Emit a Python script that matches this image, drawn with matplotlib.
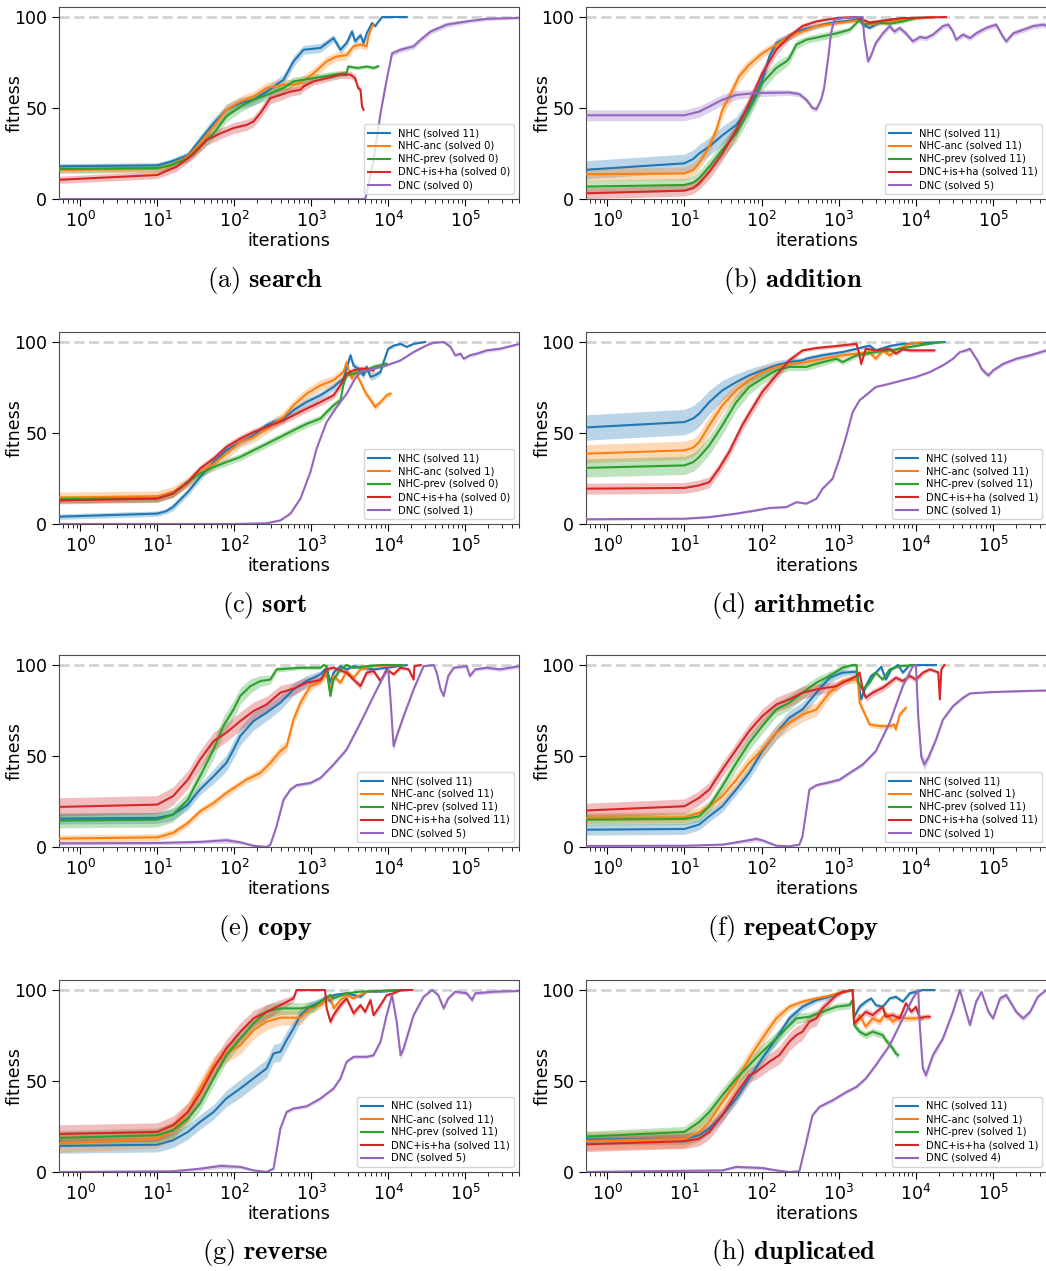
import numpy as np
import matplotlib
matplotlib.use("Agg")
import matplotlib.pyplot as plt

plt.rcParams['mathtext.fontset'] = 'cm'

methods = ['NHC', 'NHC-anc', 'NHC-prev', 'DNC+is+ha', 'DNC']
colors = ['tab:blue', 'tab:orange', 'tab:green', 'tab:red', 'tab:purple']

# each point: (iterations, mean fitness, half width of the shaded band)

# --- search ---
search_nhc = [(0.5, 18, 1.5), (10, 18.5, 1.5), (15, 20.5, 1.5), (25, 24, 2), (36, 32.5, 2.5), (54, 41.6, 3),
              (79, 49, 3), (120, 52.7, 3), (178, 54.5, 3), (263, 59, 3), (437, 65.5, 3), (589, 75.6, 3),
              (794, 82, 2.5), (1318, 83, 2.5), (1950, 88.4, 2), (2399, 82, 2), (2884, 85.7, 2), (3388, 92, 2),
              (3715, 86.6, 2), (4365, 90, 1.5), (4786, 85.7, 1.5), (5248, 91, 1.5), (6166, 96.7, 1),
              (6761, 95, 1), (8318, 100, 0.5), (17378, 100, 0)]
search_anc = [(0.5, 16, 2), (10, 16.5, 2), (15, 18.5, 2), (25, 23.3, 2.5), (36, 30.6, 3), (54, 39.8, 3),
              (79, 49, 3), (120, 53.6, 3), (178, 56.3, 3), (263, 61, 3), (437, 62.8, 3), (589, 62.8, 3),
              (724, 63.7, 3), (1072, 69, 3), (1585, 75.6, 3), (2138, 78.3, 2.5), (2884, 79, 2.5),
              (3548, 83.9, 2), (4365, 84.8, 2), (5248, 83.9, 2), (5495, 89, 2), (6166, 95, 1), (6457, 95.8, 1)]
search_prev = [(0.5, 16.5, 2), (10, 17, 2), (15, 18.5, 2), (25, 22.4, 2), (36, 28.8, 2.5), (54, 36, 3),
               (79, 45.3, 3), (120, 50.8, 3), (178, 54.5, 3), (263, 57.2, 3), (437, 61, 2.5), (589, 64.6, 2.5),
               (1072, 66.4, 2), (1950, 68.3, 2), (2884, 69.2, 1.5), (3020, 72.8, 1), (4000, 72, 1),
               (5248, 72.8, 1), (6500, 72, 1), (7413, 73, 1)]
search_isha = [(0.5, 10.5, 2), (10, 13.2, 2), (18, 17.8, 2.5), (30, 25, 2.5), (44, 32.5, 3), (66, 36, 3),
               (98, 39, 3), (145, 40.7, 3), (178, 42.6, 3), (219, 47.2, 3), (295, 55.4, 3), (398, 57.2, 3),
               (537, 59, 2.5), (724, 60, 2.5), (794, 61.8, 2.5), (1072, 64.6, 2), (1585, 66.4, 2),
               (2399, 68.3, 2), (3236, 68.3, 2), (3715, 66.4, 2), (4074, 61, 1.5), (4365, 60, 1.5),
               (4571, 50.8, 1), (4786, 49, 1)]
search_dnc = [(0.5, 0, 0), (5012, 0, 0), (5248, 3, 0.5), (6457, 21.5, 1), (7943, 47, 1.5), (9550, 65.5, 1.5),
              (11220, 80, 1.5), (14454, 82, 1.5), (21380, 83.9, 1.5), (26303, 87.5, 1.5), (35481, 92, 1.5),
              (57544, 95.8, 1.5), (104713, 97.6, 1), (190546, 99, 1), (501187, 99.5, 0.5)]

# --- addition ---
add_nhc = [(0.5, 16, 5), (10, 19.6, 5), (13, 22, 5), (15.5, 25, 5), (21, 28.8, 5), (31, 35, 5),
           (47, 40.7, 4.5), (69, 50.8, 4), (85, 58, 4), (102, 65.5, 3.5), (126, 78.3, 3), (155, 85.7, 2.5),
           (229, 89.4, 2), (339, 93, 1.5), (513, 95, 1.5), (759, 96.7, 1), (1122, 97.6, 1), (1698, 98.5, 1),
           (1950, 100, 0.5), (2042, 95.8, 1), (2512, 94, 1), (3020, 95.8, 1), (3715, 97.6, 1),
           (4571, 98.5, 1), (6761, 99.4, 0.5), (10000, 99.4, 0.5), (17378, 100, 0)]
add_anc = [(0.5, 13.6, 3.5), (10, 14, 3.5), (13, 16, 3.5), (15.5, 19.6, 3.5), (21, 28.8, 4), (26, 38, 4),
           (31, 49, 4), (38, 56, 4), (51, 67.3, 3.5), (69, 73.8, 3), (102, 80, 2.5), (155, 84.8, 2),
           (229, 89.4, 2), (513, 95, 1.5), (1122, 97, 1), (1698, 98, 1), (2512, 95.8, 1), (3715, 97, 1),
           (6761, 98.5, 1), (12303, 99.4, 0.5), (17378, 100, 0)]
add_prev = [(0.5, 6.8, 3.5), (10, 7.7, 3.5), (13, 9, 3.5), (15.5, 11.4, 4), (21, 17.8, 4), (31, 27, 4.5),
            (47, 36, 4.5), (69, 49, 4.5), (85, 56.3, 4), (102, 63.7, 4), (155, 72, 3.5), (209, 75.6, 3),
            (229, 77.4, 3), (282, 84.8, 2.5), (380, 87.5, 2), (617, 89.4, 2), (933, 91, 2), (1380, 93, 1.5),
            (1698, 96.7, 1), (1862, 98.5, 1), (2042, 95.8, 1), (3020, 97, 1), (4571, 96.3, 1),
            (6761, 97.6, 1), (10000, 99.4, 0.5)]
add_isha = [(0.5, 3.1, 3), (10, 4.6, 3), (13, 6, 3), (15.5, 8.6, 3.5), (21, 15, 4), (31, 25, 4), (47, 38, 4),
            (69, 52.7, 4), (102, 69, 3.5), (155, 82, 3), (229, 89.4, 2), (339, 95, 1.5), (513, 97.6, 1),
            (933, 99.4, 0.5), (1698, 100, 0.5), (2042, 98.5, 1), (2512, 97, 1), (3715, 98, 1),
            (6761, 99.4, 0.5), (24547, 100, 0)]
add_dnc = [(0.5, 46, 3), (10, 46, 3), (15.5, 48, 3), (21, 50.8, 3), (31, 54.5, 3), (47, 57.2, 2.5),
           (85, 58.2, 2), (229, 58.5, 1.5), (309, 57.6, 1.5), (380, 54.5, 1.5), (457, 50, 1.5),
           (513, 49.4, 1.5), (589, 54.5, 1.5), (646, 61, 1.5), (724, 76.5, 1.5), (794, 91, 1),
           (871, 98.5, 1), (1122, 99.4, 0.5), (1862, 100, 0.5), (2042, 100, 0.5), (2138, 89, 1),
           (2399, 75.6, 1.5), (2630, 79, 1.5), (3020, 85.7, 1.5), (3715, 91, 1.5), (4571, 95, 1.5),
           (5248, 92, 1.5), (6166, 94, 1.5), (7413, 91, 1.5), (9120, 86.6, 1.5), (11220, 89, 1.5),
           (13490, 88.4, 1.5), (16596, 90.3, 1.5), (22387, 95, 1.5), (26303, 95.8, 1.5), (30200, 92, 1.5),
           (33113, 87.5, 1.5), (40738, 90.3, 1.5), (50119, 88.4, 1.5), (60256, 91, 1.5), (81283, 94, 1.5),
           (109648, 95.8, 1.5), (134896, 89, 1.5), (147911, 86.6, 1.5), (181970, 91, 1.5),
           (245471, 93, 1.5), (331131, 95, 1.5), (446684, 95.8, 1.5), (501187, 95, 1.5)]

# --- sort ---
sort_nhc = [(0.5, 4, 1.5), (10, 5.7, 1.5), (13, 7, 1.5), (16, 9.3, 2), (25, 17.6, 2), (36, 25.8, 2),
            (54, 34, 2), (79, 40.5, 2), (120, 45, 2), (178, 48.7, 2), (263, 54.2, 2), (324, 56, 2),
            (437, 57.9, 2), (589, 62.5, 2), (871, 67, 2), (1318, 70.7, 2), (1950, 75.3, 2), (2630, 79.9, 2),
            (3236, 92.7, 2), (3548, 87, 2), (4074, 85.3, 2), (4786, 81.7, 2), (5248, 86.3, 2),
            (5888, 80.8, 2), (6761, 81.7, 2), (7943, 83.5, 1.5), (8710, 89, 1.5), (10000, 96.3, 1),
            (11749, 98, 1), (14454, 99, 0.5), (17378, 97.3, 0.5), (21380, 99, 0.5), (30200, 100, 0)]
sort_anc = [(0.5, 14.5, 3), (10, 15.2, 3), (16, 17.6, 3), (25, 23, 3), (36, 28.6, 3), (54, 33, 3),
            (79, 38.6, 3), (120, 45, 3), (178, 47.8, 3), (263, 52.4, 3), (437, 58.8, 3), (589, 65.2, 3),
            (871, 71.6, 3), (1318, 76.2, 3), (1950, 79, 2.5), (2630, 83.5, 2.5), (2884, 89, 2.5),
            (3020, 85.3, 2), (3388, 79.9, 2), (3715, 83.5, 2), (4365, 78, 2), (5012, 72.5, 2), (6166, 67, 2),
            (6761, 64.3, 2), (7943, 67, 1.5), (9550, 70.7, 1.5), (10715, 71.6, 1.5)]
sort_prev = [(0.5, 13.6, 2), (10, 14.1, 2), (16, 16.7, 2), (25, 23, 2), (36, 27.7, 2), (54, 31.3, 2),
             (79, 34, 2), (120, 36.8, 2), (178, 40.5, 2), (263, 44, 2), (437, 48.7, 2), (589, 51.5, 2),
             (871, 55, 2), (1318, 57.9, 2), (1585, 61.5, 2), (1950, 65.2, 2), (2399, 68, 2), (2630, 77, 1.5),
             (2884, 81.7, 1.5), (3548, 82.6, 1.5), (4365, 83.5, 1.5), (5248, 84.4, 1.5), (6457, 86.3, 1.5),
             (7943, 87.2, 1.5), (9550, 88, 1.5)]
sort_isha = [(0.5, 13, 2), (10, 13.9, 2), (16, 16.7, 2), (25, 23, 2), (36, 30.4, 2), (54, 35.9, 2),
             (79, 42.3, 2), (120, 46.9, 2), (178, 50.5, 2), (263, 53.3, 2), (437, 57, 2), (589, 59.7, 2),
             (871, 63.4, 2), (1318, 67, 2), (1950, 70.7, 2), (2399, 76.2, 2), (2884, 82.6, 1.5),
             (3548, 84.4, 1.5), (4365, 85.3, 1.5), (5248, 85.3, 1.5), (6457, 84.4, 1.5)]
sort_dnc = [(0.5, 0, 0), (98, 0, 0), (263, 0.4, 0.3), (398, 2, 0.5), (537, 5.7, 0.5), (724, 13.9, 0.5),
            (977, 28.6, 0.5), (1175, 41.4, 0.5), (1585, 56, 0.5), (2138, 64.3, 0.5), (2884, 71.6, 0.5),
            (3715, 79.9, 0.5), (4365, 83.5, 0.5), (6457, 85.3, 0.5), (9550, 87.2, 0.5), (14454, 89.9, 0.5),
            (21380, 94.5, 0.5), (31623, 98.2, 0.5), (38905, 99.6, 0.5), (52481, 100, 0.5), (64565, 97.3, 1),
            (74131, 92.7, 1), (87096, 93.6, 1), (95499, 90.8, 1), (114815, 92.7, 1), (141254, 93.6, 1),
            (190546, 95.4, 1), (281838, 96.3, 1), (512861, 99, 0.5)]

# --- arithmetic ---
arith_nhc = [(0.5, 53, 7), (10, 56, 7), (13, 58, 7), (15.5, 60.6, 7), (21, 67, 6.5), (31, 73.4, 5.5),
             (47, 78, 4.5), (69, 81.7, 3.5), (102, 84.4, 3), (155, 87.2, 2.5), (229, 89, 2), (339, 89.9, 1.5),
             (380, 90.8, 1.5), (617, 92.7, 1.5), (1122, 94.5, 1), (1698, 96.3, 1), (2512, 98, 1),
             (3020, 95.4, 1), (4571, 97.8, 1), (6761, 99, 0.5), (23442, 100, 0)]
arith_anc = [(0.5, 38.6, 5), (10, 40.5, 5), (13, 42, 5), (15.5, 45, 5), (21, 54.2, 5), (31, 65.2, 4.5),
             (47, 73.4, 4), (69, 79, 3.5), (102, 83.5, 3), (155, 86.3, 2), (229, 88, 1.5), (380, 89, 1.5),
             (617, 90.8, 1.5), (1122, 92.7, 1.5), (1698, 93.6, 1.5), (2512, 94.5, 1.5), (3020, 90.8, 1.5),
             (3715, 95.4, 1.5), (4571, 92.7, 1.5), (5888, 96.3, 1), (8318, 99, 0.5), (12303, 100, 0)]
arith_prev = [(0.5, 30.8, 5), (10, 32.2, 5), (13, 34, 5), (15.5, 36.8, 5), (21, 43.2, 5), (31, 54.2, 5),
              (47, 67, 4.5), (69, 75.3, 4), (102, 79.9, 3), (155, 84.4, 2.5), (229, 86.3, 2), (380, 86.3, 2),
              (513, 88, 2), (933, 90.8, 1.5), (1122, 89, 1.5), (1698, 92.7, 1.5), (3020, 94.5, 1),
              (4571, 95.4, 1), (8318, 97.3, 1), (12303, 98.5, 0.5), (22387, 100, 0)]
arith_isha = [(0.5, 19.4, 3), (10, 19.8, 3), (15.5, 21.2, 3), (21, 23, 3), (28, 30.4, 3), (38, 39.6, 3),
              (56, 54.2, 3), (85, 67, 3), (102, 72.5, 3), (155, 81.7, 2.5), (229, 89.9, 2), (339, 95.4, 1),
              (513, 96.7, 1), (933, 97.8, 1), (1698, 99, 1), (1862, 92.7, 1.5), (1950, 88, 1.5),
              (2239, 96.3, 1), (3020, 95.4, 1), (4571, 96.3, 1), (5495, 93.6, 1), (6761, 96, 1),
              (8318, 95.4, 1), (12303, 95.4, 1), (17378, 95.4, 1)]
arith_dnc = [(0.5, 2.6, 0.5), (10, 2.9, 0.5), (21, 3.8, 0.5), (47, 5.7, 0.5), (85, 7.5, 0.5), (126, 8.8, 0.5),
             (209, 9.3, 0.5), (282, 12, 0.5), (380, 11.2, 0.5), (513, 13.9, 0.5), (617, 19.4, 0.5),
             (832, 24.9, 0.5), (1023, 35.9, 0.5), (1259, 48.7, 0.5), (1514, 61.5, 0.5), (1862, 68, 0.5),
             (2512, 72.5, 0.5), (3020, 75.3, 0.5), (4571, 77.1, 0.5), (6761, 79, 0.5), (10000, 80.8, 0.5),
             (15136, 83.5, 0.5), (22387, 87.2, 0.5), (30200, 90.8, 0.5), (37154, 94.5, 0.5), (44668, 95.4, 1),
             (50119, 96.3, 1), (54954, 93.6, 1), (64565, 89, 1.5), (70795, 85.3, 1.5), (77625, 83.5, 1.5),
             (87096, 81.7, 1.5), (100000, 84.4, 1), (134896, 88, 1), (199526, 90.8, 1), (301995, 92.7, 1),
             (489779, 95.4, 1)]

# --- copy ---
copy_nhc = [(0.5, 15.6, 3), (10, 16, 3), (16, 17.8, 3), (25, 23.3, 3), (36, 31.6, 3), (54, 38.9, 4),
            (79, 46.2, 4.5), (98, 53.6, 5), (120, 61, 5), (178, 69.2, 5), (263, 73.8, 4.5), (398, 79.3, 4),
            (589, 86.6, 3.5), (871, 91.2, 3), (1318, 94.9, 2), (1585, 98.5, 1.5), (1778, 90.3, 1.5),
            (1950, 95.8, 1.5), (2399, 99.4, 1), (2884, 97.6, 1), (3548, 99.4, 1), (4365, 98.5, 1),
            (6457, 97.6, 1), (11749, 99, 0.5), (17378, 100, 0)]
copy_anc = [(0.5, 4.6, 2), (10, 5.3, 2), (16, 7.7, 2), (25, 13.2, 2), (36, 19.6, 2), (54, 24.2, 2),
            (79, 29.7, 2), (107, 33.4, 2), (145, 37.1, 2), (219, 40.7, 2.5), (295, 46.2, 3), (398, 52.7, 3),
            (479, 55.4, 3), (589, 70.1, 3), (724, 79.3, 3), (977, 88.4, 2.5), (1318, 91.2, 2),
            (1585, 94.9, 2), (1778, 86.6, 2), (1950, 94, 2), (2399, 90.3, 1.5), (2884, 96.7, 1.5),
            (3548, 93, 1.5), (4365, 97.6, 1), (6457, 99.4, 0.5), (14454, 100, 0)]
copy_prev = [(0.5, 14.5, 4), (10, 15, 4), (16, 17.8, 4), (25, 26, 4), (36, 38.9, 4.5), (54, 53.6, 5),
             (72, 66.4, 5), (98, 75.6, 5), (120, 83, 4.5), (162, 88.4, 4), (219, 91.2, 3), (295, 92, 2.5),
             (355, 97.6, 1.5), (724, 98.5, 1), (1318, 98.5, 1), (1445, 100, 0.5), (1585, 99.4, 0.5),
             (1698, 88.4, 2), (1778, 83, 2), (1950, 92, 1.5), (2399, 97.6, 1), (2884, 100, 0.5),
             (3548, 98.5, 0.5), (5248, 99.4, 0.5), (7943, 100, 0), (15000, 100, 0)]
copy_isha = [(0.5, 22, 5), (10, 23.3, 5), (16, 27.9, 5), (25, 37, 5), (36, 48, 5), (54, 58.2, 5),
             (79, 62.8, 5), (120, 69.2, 5), (178, 74.7, 5), (263, 78.3, 4.5), (398, 84.8, 4), (589, 87, 3.5),
             (871, 90.3, 3), (1318, 91.7, 2), (1585, 97.6, 1.5), (1950, 98.5, 1), (2884, 95.8, 1.5),
             (3548, 92, 1.5), (4365, 88.4, 2), (5248, 95.8, 1.5), (6457, 96.7, 1.5), (7943, 91.2, 1.5),
             (9550, 97.6, 1), (11749, 94.9, 1), (14454, 98.5, 1), (18500, 97.6, 1), (21380, 92, 1),
             (22000, 99.4, 0.5), (26303, 100, 0)]
copy_dnc = [(0.5, 2, 1), (10, 2.2, 1), (36, 2.8, 1), (79, 3.7, 1.5), (120, 2.6, 1), (178, 0.7, 0.5),
            (263, 0, 0), (295, 1.3, 0.5), (355, 11.4, 0.5), (437, 26, 1), (537, 31.6, 1), (646, 34, 1),
            (977, 35.2, 1), (1318, 38, 1), (1950, 45.3, 1), (2884, 53.6, 1), (4365, 68.3, 1), (6457, 83, 1),
            (8710, 94, 1), (10000, 97.6, 1), (10715, 81.1, 2), (11749, 55.4, 2.5), (12882, 61, 2),
            (15849, 71.9, 1.5), (21380, 86.6, 1), (28840, 99.4, 0.5), (38905, 100, 0.5), (42658, 95.8, 1),
            (47863, 86.6, 1.5), (52481, 83, 1.5), (60256, 94, 1), (70795, 98.5, 1), (104713, 99.4, 1),
            (114815, 94, 1.5), (134896, 97.6, 1), (190546, 98.5, 1), (281838, 97.6, 1), (512861, 99.4, 1)]

# --- repeatCopy ---
rep_nhc = [(0.5, 9.5, 3), (10, 9.9, 3), (15.5, 12.3, 3), (21, 16.9, 3), (31, 22.4, 3), (47, 31.6, 3),
           (69, 40.7, 3.5), (102, 52.7, 4), (155, 62.8, 4), (229, 71, 4), (339, 75.6, 4), (513, 84.8, 3.5),
           (759, 93, 3), (1122, 95.8, 2), (1698, 96.3, 1.5), (1778, 92, 1.5), (1950, 81.1, 2),
           (2239, 88.4, 1.5), (2630, 94, 1.5), (3020, 95.8, 1), (3548, 99, 1), (4074, 92, 1),
           (4786, 97.6, 1), (5888, 100, 0.5), (6761, 95.8, 1), (8318, 100, 0.5), (18197, 100, 0)]
rep_anc = [(0.5, 16, 3), (10, 16.3, 3), (15.5, 18.7, 3), (21, 22.4, 3), (31, 27.9, 3.5), (47, 37, 4),
           (69, 46.2, 4), (102, 53.6, 4), (155, 62.8, 4), (229, 68.3, 4), (339, 72.8, 4), (513, 75.6, 3.5),
           (759, 84.8, 3), (1122, 91.2, 2), (1698, 92, 2), (1778, 90.3, 2), (1862, 79.3, 2),
           (2138, 73.8, 2), (2512, 67.3, 1.5), (3388, 66.4, 1.5), (4571, 66.4, 1.5), (5248, 67.3, 1.5),
           (5495, 64.6, 1.5), (6166, 72.8, 1.5), (7413, 76.5, 1.5)]
rep_prev = [(0.5, 15, 3), (10, 15.4, 3), (15.5, 16.9, 3), (21, 22.4, 3), (31, 33.4, 3.5), (47, 46.2, 4),
            (69, 57.2, 4), (102, 66.4, 4), (155, 75.6, 4), (229, 79.3, 4), (339, 84.8, 3.5), (513, 90.3, 3),
            (759, 94, 2.5), (1122, 98.5, 1.5), (1514, 100, 1), (1698, 100, 1), (1778, 90.3, 1.5),
            (2042, 86.6, 1.5), (2512, 90.3, 1.5), (3020, 95.8, 1), (3715, 92, 1), (4571, 97.6, 1),
            (6166, 99.4, 0.5), (10000, 100, 0)]
rep_isha = [(0.5, 20, 4), (10, 22.4, 4), (15.5, 27, 4), (21, 31.6, 4), (31, 42.6, 4), (47, 53.6, 4),
            (69, 63.7, 4), (102, 71.9, 4), (155, 78.3, 4), (229, 81.1, 4), (339, 84.8, 3.5), (513, 86.6, 3),
            (933, 88.4, 2.5), (1122, 90.3, 2), (1698, 93.9, 1.5), (1862, 95.8, 1.5), (2042, 86.6, 2),
            (2239, 82, 2), (2754, 84.8, 2), (3715, 87.5, 2), (4571, 90.3, 2), (5495, 93, 1.5),
            (6761, 91.2, 1.5), (8318, 94, 1.5), (10000, 92, 1.5), (12303, 95.8, 1.5), (15136, 97.6, 1),
            (19500, 96, 1), (20417, 81.1, 1.5), (21380, 97.6, 1), (23442, 100, 0)]
rep_dnc = [(0.5, 0.6, 0.5), (10, 0.7, 0.5), (31, 1.3, 0.5), (56, 3.1, 1), (85, 4.4, 1.5), (102, 3.7, 1),
           (155, 0.7, 0.5), (229, 0.4, 0.3), (309, 1.3, 0.5), (339, 5.9, 0.5), (417, 31.6, 1), (513, 34, 1),
           (759, 35.6, 1), (1023, 37, 1), (1380, 40.7, 1), (2042, 45.3, 1), (3020, 52.7, 1), (4571, 68.3, 1),
           (6761, 88.4, 1), (9120, 99.4, 0.5), (10000, 100, 0.5), (10715, 71.9, 2), (11749, 49.5, 3),
           (12882, 45.3, 3), (14454, 49, 2), (18197, 59, 1.5), (22387, 70, 1), (30200, 77.4, 1),
           (40738, 82, 1), (50119, 84.4, 0.5), (91201, 85.1, 0.5), (245471, 85.7, 0.5), (489779, 86, 0.5)]

# --- reverse ---
rev_nhc = [(0.5, 14.3, 4), (10, 15, 4), (16, 17.4, 4), (25, 22, 4), (36, 27.5, 4), (54, 33, 4),
           (79, 40.4, 4.5), (120, 45.9, 5), (178, 51.4, 5), (263, 56.9, 5), (324, 65.1, 5), (398, 66.1, 5),
           (479, 72.5, 5), (589, 78.9, 4.5), (724, 86.2, 4), (977, 90.8, 3), (1318, 93.6, 2),
           (1585, 96.3, 1.5), (1778, 93.6, 1.5), (1950, 97.2, 1), (2884, 98.2, 1), (4365, 96.3, 1),
           (5248, 99.1, 0.5), (7943, 99.1, 0.5), (18197, 100, 0)]
rev_anc = [(0.5, 15.6, 5), (10, 18.3, 5), (16, 22.9, 5), (25, 33, 5), (36, 45.9, 5), (54, 58.7, 5),
           (79, 65.1, 5), (120, 69.7, 5), (178, 78, 5), (263, 82.6, 4.5), (398, 84.8, 4), (724, 84.8, 4),
           (977, 89.9, 3), (1318, 91.7, 2), (1778, 96.3, 1.5), (1950, 89.9, 2), (2399, 94.5, 1.5),
           (2884, 97.2, 1), (3548, 95.4, 1), (5248, 99.1, 0.5), (14454, 100, 0)]
rev_prev = [(0.5, 18.7, 4), (10, 20.2, 4), (16, 22.9, 4), (25, 29.4, 4), (36, 37.6, 4), (54, 51.4, 4),
            (79, 64.2, 4), (120, 73.4, 4), (178, 81.7, 4), (263, 88, 4), (398, 89.9, 3.5), (724, 89.9, 3),
            (1072, 90.8, 3), (1318, 93.6, 2), (1778, 97.2, 1.5), (1950, 95.4, 1.5), (2884, 98.2, 1),
            (4365, 99.1, 0.5), (14454, 100, 0)]
rev_isha = [(0.5, 20.9, 5), (10, 22, 5), (16, 25.7, 5), (25, 33, 5), (36, 43.1, 5), (54, 56.9, 5),
            (79, 67.9, 5), (120, 77, 5), (178, 84.4, 4.5), (263, 88, 4), (398, 91.7, 3), (589, 95.4, 2),
            (646, 100, 0.5), (1514, 100, 0.5), (1585, 89.9, 2), (1778, 82.6, 2), (1950, 86.2, 2),
            (2399, 91.7, 2), (2884, 95.4, 1.5), (3548, 87.2, 2), (4365, 91.7, 1.5), (5012, 88, 1.5),
            (5888, 94.5, 1.5), (6457, 86.2, 1.5), (7943, 91.7, 1.5), (9550, 97.2, 1), (11749, 98.2, 1),
            (14454, 100, 0.5), (20417, 100, 0)]
rev_dnc = [(0.5, 0, 0.3), (16, 0.4, 0.5), (36, 1.8, 1), (66, 3.3, 1.5), (120, 2.8, 1), (178, 0.9, 0.5),
           (263, 0, 0), (324, 1.8, 0.5), (398, 23.9, 1), (479, 33, 1), (589, 34.9, 1), (871, 36.1, 1),
           (1318, 40.4, 1), (1950, 45.9, 1), (2399, 51.4, 1), (2884, 60.6, 1), (3548, 63.3, 1),
           (5248, 63.3, 1), (6457, 64.2, 1), (7943, 71.6, 1), (9550, 86.2, 1), (11220, 97.2, 1),
           (12882, 82.6, 2), (14454, 64.2, 2.5), (15849, 67.9, 2), (21380, 86.2, 1), (28840, 96.3, 1),
           (37154, 100, 0.5), (44668, 97.2, 1), (52481, 89.9, 1.5), (60256, 95.4, 1), (74131, 99.1, 1),
           (104713, 98.2, 1), (123027, 94.5, 1.5), (134896, 98.2, 1), (245471, 99.1, 1), (512861, 99.5, 0.5)]

# --- duplicated ---
dup_nhc = [(0.5, 17.8, 3), (10, 18.3, 3), (15.5, 20.2, 3), (21, 23.9, 3), (31, 31.2, 3), (47, 40.4, 3),
           (69, 51.4, 3), (102, 62.4, 3), (155, 73.4, 3), (229, 84.4, 2.5), (339, 90.8, 2), (513, 94.5, 1.5),
           (759, 96.3, 1.5), (1122, 99, 1), (1514, 100, 0.5), (1585, 85.3, 2), (1862, 90.8, 1.5),
           (2239, 93.6, 1.5), (2630, 95.4, 1), (3020, 91.7, 1), (3715, 90.8, 1), (4571, 95.4, 1),
           (5495, 96.3, 1), (6761, 93.6, 1), (8318, 98.2, 1), (12303, 100, 0.5), (17378, 100, 0)]
dup_anc = [(0.5, 17, 5), (10, 18.3, 5), (15.5, 22, 5), (21, 27.5, 5), (31, 38.5, 5), (47, 49.5, 5),
           (69, 62.4, 4.5), (102, 73.4, 4), (155, 84.4, 3), (229, 90.8, 2), (339, 93.6, 1.5), (513, 95.4, 1.5),
           (759, 96.9, 1), (1122, 99, 1), (1514, 100, 0.5), (1585, 80.7, 2), (1862, 86.2, 2), (2239, 79.8, 2),
           (2754, 84.4, 2), (3388, 82.6, 2), (4074, 87.2, 2), (5012, 82.6, 2), (6166, 85.3, 2),
           (7413, 84.4, 2), (10000, 84.4, 1.5), (12303, 85.3, 1.5)]
dup_prev = [(0.5, 19.4, 3), (10, 22, 3), (15.5, 27.5, 3.5), (21, 33, 4), (31, 42.2, 4), (47, 51.4, 4),
            (69, 58.7, 4), (102, 66.1, 4), (155, 73.4, 3.5), (209, 78.9, 3), (282, 84.4, 3), (417, 85.3, 2.5),
            (617, 88, 2), (933, 90.8, 2), (1380, 91.7, 2), (1514, 94.5, 1.5), (1585, 80.7, 2),
            (1862, 77.1, 2), (2239, 75.2, 2), (2754, 77.1, 2), (3715, 75.2, 2), (4074, 72.5, 2),
            (5012, 67.9, 2), (5495, 65.1, 2), (5888, 64.2, 2)]
dup_isha = [(0.5, 15.2, 4), (10, 16.9, 4), (15.5, 18.3, 4), (21, 22, 4), (31, 31.2, 4), (47, 43.1, 4),
            (69, 53.2, 4), (85, 55, 4), (126, 60.6, 4.5), (170, 64.2, 5), (229, 71.6, 5), (282, 75.2, 5),
            (339, 77.1, 4.5), (417, 82.6, 4), (513, 84.4, 4), (617, 89.9, 3), (933, 97.2, 1.5),
            (1122, 99, 1), (1514, 100, 0.5), (1585, 81.7, 2), (1862, 84.4, 2), (2239, 88, 2),
            (2754, 86.2, 2), (3715, 90.8, 2), (4074, 85.3, 2), (5012, 86.2, 2), (6166, 84.4, 2),
            (7413, 92.7, 1.5), (8710, 88, 1.5), (10000, 90.8, 1.5), (11220, 84.4, 1.5), (13490, 85.3, 1.5),
            (15136, 85.3, 1.5)]
dup_dnc = [(0.5, 0, 0.3), (31, 0.9, 0.5), (47, 2.8, 1), (102, 2.2, 1), (155, 0.9, 0.5), (229, 0, 0),
           (309, 0.4, 0.3), (380, 16.5, 1), (457, 31.2, 1), (562, 35.8, 1), (832, 39.4, 1), (1259, 44, 1),
           (1698, 46.8, 1), (2239, 51.4, 1), (3020, 58.7, 1), (4571, 69.7, 1), (6761, 84.4, 1),
           (9120, 95.4, 1), (10715, 100, 0.5), (11220, 80.7, 2), (12303, 56.9, 2.5), (13490, 53.2, 2.5),
           (16596, 64.2, 2), (22387, 73.4, 1.5), (30200, 88, 1.5), (37154, 100, 1), (44668, 88, 1.5),
           (50119, 80.7, 1.5), (60256, 93.6, 1.5), (70795, 99, 1), (87096, 88, 1.5), (100000, 84.4, 1.5),
           (123027, 95.4, 1.5), (147911, 97.2, 1.5), (199526, 88, 1.5), (245471, 84.4, 1.5),
           (301995, 88, 1.5), (380189, 96.3, 1), (489779, 100, 0.5)]

# number of solved runs per method, same order as `methods`
solved_search = [11, 0, 0, 0, 0]
solved_add = [11, 11, 11, 11, 5]
solved_sort = [11, 1, 0, 0, 1]
solved_arith = [11, 11, 11, 1, 1]
solved_copy = [11, 11, 11, 11, 5]
solved_rep = [11, 1, 11, 11, 1]
solved_rev = [11, 11, 11, 11, 5]
solved_dup = [11, 1, 1, 1, 4]

decades = [1e0, 1e1, 1e2, 1e3, 1e4, 1e5]

panels = [
    ('(a)', 'search', [search_nhc, search_anc, search_prev, search_isha, search_dnc], solved_search),
    ('(b)', 'addition', [add_nhc, add_anc, add_prev, add_isha, add_dnc], solved_add),
    ('(c)', 'sort', [sort_nhc, sort_anc, sort_prev, sort_isha, sort_dnc], solved_sort),
    ('(d)', 'arithmetic', [arith_nhc, arith_anc, arith_prev, arith_isha, arith_dnc], solved_arith),
    ('(e)', 'copy', [copy_nhc, copy_anc, copy_prev, copy_isha, copy_dnc], solved_copy),
    ('(f)', 'repeatCopy', [rep_nhc, rep_anc, rep_prev, rep_isha, rep_dnc], solved_rep),
    ('(g)', 'reverse', [rev_nhc, rev_anc, rev_prev, rev_isha, rev_dnc], solved_rev),
    ('(h)', 'duplicated', [dup_nhc, dup_anc, dup_prev, dup_isha, dup_dnc], solved_dup),
]


def draw_panel(ax, curves, solved, label_x):
    ax.axhline(100, color='lightgray', ls='--', lw=2, zorder=1)
    for pts, name, n, c in zip(curves, methods, solved, colors):
        x = np.array([p[0] for p in pts], dtype=float)
        y = np.array([p[1] for p in pts], dtype=float)
        b = np.array([p[2] for p in pts], dtype=float)
        ax.fill_between(x, y - b, y + b, color=c, alpha=0.3, lw=0, zorder=2)
        ax.plot(x, y, color=c, lw=1.5, label=f'{name} (solved {n})', zorder=3)
    ax.set_xscale('log')
    ax.set_xticks(decades)
    ax.set_xlim(0.53, 5e5)
    ax.set_ylim(0, 105.5)
    ax.set_yticks([0, 50, 100])
    ax.tick_params(labelsize=12.5, length=5)
    ax.tick_params(which='minor', length=3)
    for sp in ax.spines.values():
        sp.set_color('0.3')
    ax.set_xlabel('iterations', fontsize=12.5, labelpad=1)
    ax.set_ylabel('fitness', fontsize=12.5)
    ax.yaxis.set_label_coords(label_x, 0.5)
    ax.legend(loc='lower right', fontsize=7.2, handlelength=2.2, labelspacing=0.3)


fig = plt.figure(figsize=(10.46, 12.71), dpi=100)

lefts = [59 / 1046, 586 / 1046]
widths = [460 / 1046, 461 / 1046]
bottoms = [1 - 199 / 1271, 1 - 524 / 1271, 1 - 847 / 1271, 1 - 1172 / 1271]
height = 192 / 1271
label_xs = [-0.076, -0.074]
cap_x = [265 / 1046, 793 / 1046]
cap_y = [1 - 281 / 1271, 1 - 605 / 1271, 1 - 929 / 1271, 1 - 1253 / 1271]

for i, (tag, task, curves, solved) in enumerate(panels):
    row, col = divmod(i, 2)
    ax = fig.add_axes([lefts[col], bottoms[row], widths[col], height])
    draw_panel(ax, curves, solved, label_xs[col])
    fig.text(cap_x[col], cap_y[row], r'$\mathrm{' + tag + r'}\ \mathbf{' + task + '}$',
             ha='center', va='center', fontsize=19)

fig.savefig('out.png', dpi=100)
